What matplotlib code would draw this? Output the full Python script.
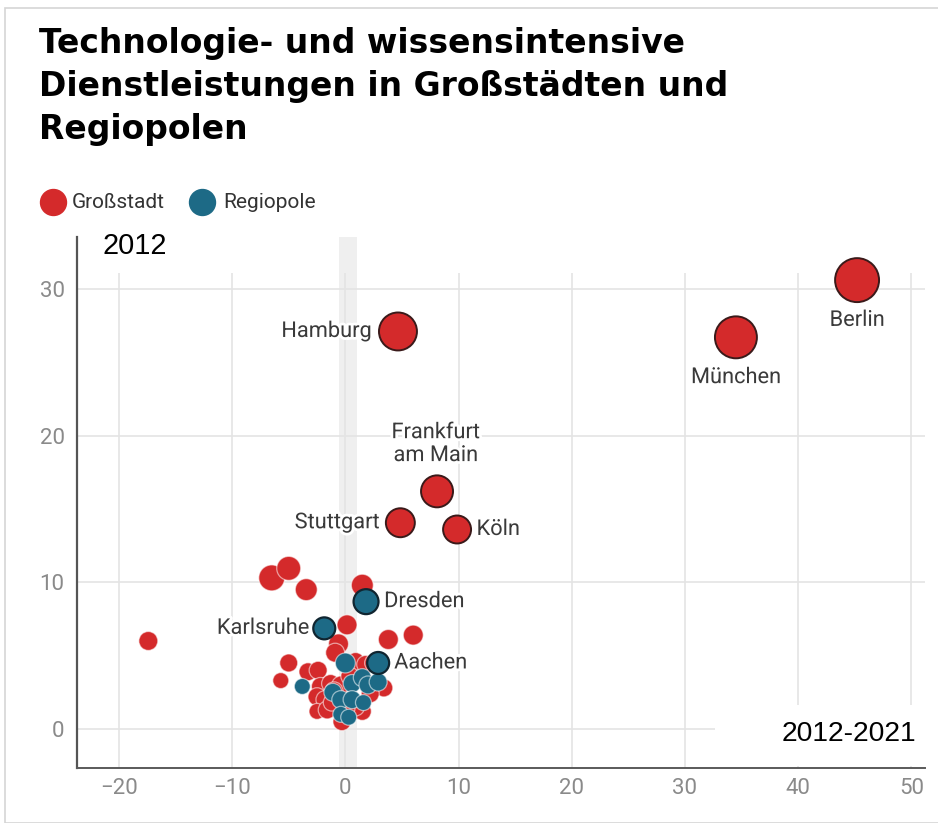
import matplotlib
matplotlib.use("Agg")
import matplotlib.pyplot as plt
from matplotlib.lines import Line2D
from matplotlib.patches import Rectangle
import matplotlib.patheffects as pe

# Daten (Veränderung 2012-2021 in Prozent vs. Stand 2012)
gross_x = [-17.4, -6.5, -5.0, -3.45, 1.5, 0.15, 3.8, 6.0, -0.6, -0.9, -5.0, -5.7, -3.3, -2.4,
           0.9, 1.8, 2.5, -2.2, -1.3, -0.4, 3.4, -2.5, -1.8, -2.5, -1.6, -0.3, 1.5, 0.9, -1.0,
           0.4, 2.2, -1.2, 0.1]
gross_y = [6.0, 10.3, 10.95, 9.5, 9.8, 7.1, 6.1, 6.4, 5.8, 5.2, 4.5, 3.3, 3.9, 4.0,
           4.6, 4.4, 4.5, 2.9, 3.1, 3.0, 2.8, 2.2, 2.0, 1.2, 1.3, 0.5, 1.2, 1.5, 2.6,
           3.6, 2.4, 1.8, 1.4]
gross_g = [90, 169, 144, 121, 121, 100, 100, 100, 100, 90, 81, 64, 81, 81,
           81, 81, 81, 81, 81, 81, 81, 81, 81, 64, 81, 81, 81, 81, 81,
           81, 81, 72, 72]

regio_x = [0.0, -3.8, 0.6, 1.5, 2.0, 2.9, -1.1, -0.4, 0.6, 1.6, -0.4, 0.3]
regio_y = [4.5, 2.9, 3.1, 3.5, 3.0, 3.2, 2.5, 2.0, 2.0, 1.8, 1.0, 0.8]
regio_g = [100, 64, 81, 81, 81, 81, 81, 81, 81, 64, 64, 64]

staedte = ["Berlin", "München", "Hamburg", "Frankfurt\nam Main", "Stuttgart", "Köln"]
staedte_x = [45.2, 34.5, 4.65, 8.1, 4.86, 9.87]
staedte_y = [30.6, 26.7, 27.1, 16.2, 14.06, 13.6]
staedte_g = [484, 441, 361, 256, 210, 196]

pole = ["Dresden", "Karlsruhe", "Aachen"]
pole_x = [1.83, -1.86, 2.9]
pole_y = [8.68, 6.86, 4.5]
pole_g = [156, 121, 121]

x_ticks = [-20, -10, 0, 10, 20, 30, 40, 50]
y_ticks = [0, 10, 20, 30]

titel = ["Technologie- und wissensintensive",
         "Dienstleistungen in Großstädten und",
         "Regiopolen"]

ROT = "#d42a2b"
BLAU = "#1d6a86"


def s_of(g):
    return [2.07 * v for v in g]


def main():
    plt.rcParams['font.family'] = ['Roboto', 'DejaVu Sans']
    fig = plt.figure(figsize=(9.38, 8.23), dpi=100)
    W, H = 938, 823

    # Karte mit dünnem Rahmen
    fig.add_artist(Rectangle((5 / W, 0), 1, 1 - 8 / H, transform=fig.transFigure,
                             facecolor="white", edgecolor="#d5d5d5", lw=1.2, zorder=-5))

    ax = fig.add_axes([77 / W, (H - 768) / H, (925 - 77) / W, (768 - 237) / H])
    ax.set_facecolor("none")
    ax.set_xlim(-23.7, 51.2)
    ax.set_ylim(-2.66, 33.54)

    # Raster
    ax.axvspan(-0.6, 1.0, color="#efefef", zorder=0, lw=0)
    for t in x_ticks:
        ax.vlines(t, -2.66, 31.1, color="#e4e4e4", lw=1.2, zorder=0.5)
    for t in y_ticks:
        ax.axhline(t, color="#e4e4e4", lw=1.2, zorder=0.5)

    ax.set_xticks(x_ticks)
    ax.set_yticks(y_ticks)
    ax.set_xticklabels([str(t).replace("-", "\u2212") for t in x_ticks])
    ax.tick_params(length=0, labelsize=16, labelcolor="#8a8a8a")
    ax.tick_params(axis="x", pad=7)
    ax.tick_params(axis="y", pad=9)
    for sp in ["top", "right"]:
        ax.spines[sp].set_visible(False)
    ax.spines["left"].set_color("#555555")
    ax.spines["left"].set_linewidth(1.6)
    ax.spines["bottom"].set_color("#5a5a5a")
    ax.spines["bottom"].set_linewidth(1.4)

    # Punkte
    ax.scatter(gross_x, gross_y, s=s_of(gross_g), color=ROT,
               edgecolor=(1, 1, 1, 0.55), lw=0.9, zorder=3)
    ax.scatter(regio_x, regio_y, s=s_of(regio_g), color=BLAU,
               edgecolor=(1, 1, 1, 0.55), lw=0.9, zorder=4)
    ax.scatter(staedte_x, staedte_y, s=s_of(staedte_g), color=ROT,
               edgecolor="#3a1a1a", lw=1.4, zorder=5)
    ax.scatter(pole_x, pole_y, s=s_of(pole_g), color=BLAU,
               edgecolor="#102530", lw=1.6, zorder=6)

    # Beschriftungen (Offset in Punkten)
    halo = [pe.withStroke(linewidth=4, foreground="white")]
    offsets = {
        "Berlin": (0, -29, "center", "center"),
        "München": (0, -29, "center", "center"),
        "Hamburg": (-19, 0, "right", "center"),
        "Frankfurt\nam Main": (-1, 34, "center", "center"),
        "Stuttgart": (-15, 0, "right", "center"),
        "Köln": (14, 0, "left", "center"),
        "Dresden": (13, 0, "left", "center"),
        "Karlsruhe": (-11, 0, "right", "center"),
        "Aachen": (11.5, 0, "left", "center"),
    }
    for name, x, y in zip(staedte + pole, staedte_x + pole_x, staedte_y + pole_y):
        dx, dy, ha, va = offsets[name]
        ax.annotate(name, (x, y), xytext=(dx, dy), textcoords="offset points",
                    ha=ha, va=va, fontsize=15.7, color="#3a3a3a", zorder=7,
                    linespacing=1.12, path_effects=halo)

    # Achsenhinweise
    ax.add_patch(Rectangle((0.752, 0.003), 0.26, 0.116, transform=ax.transAxes,
                           facecolor="white", edgecolor="none", zorder=2))
    fig.text(849 / W, 1 - 734 / H, "2012-2021", fontsize=20.3, color="black",
             family="Liberation Sans", ha="center", va="center")
    fig.text(102 / W, 1 - 246 / H, "2012", fontsize=20.8, color="black",
             family="Liberation Sans", ha="left", va="center")

    # Titel
    for zeile, base in zip(titel, [53, 96, 139]):
        fig.text(39 / W, 1 - base / H, zeile, fontsize=23.8, fontweight="bold",
                 family="DejaVu Sans", color="black", ha="left", va="baseline")

    # Legende
    for cx, tx, col, lab in [(53, 72, ROT, "Großstadt"), (202, 223, BLAU, "Regiopole")]:
        fig.add_artist(Line2D([cx / W], [1 - 202 / H], transform=fig.transFigure,
                              marker="o", markersize=18.7, color=col, lw=0))
        fig.text(tx / W, 1 - 202 / H, lab, fontsize=15, color="#333333",
                 ha="left", va="center")

    fig.savefig("out.png", dpi=100)


if __name__ == '__main__':
    main()
